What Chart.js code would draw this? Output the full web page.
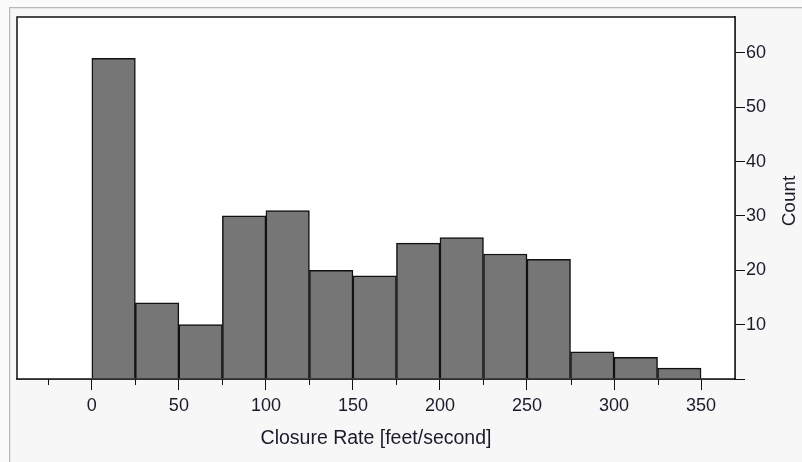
<!DOCTYPE html>
<html>
<head>
<meta charset="utf-8">
<script src="https://cdn.jsdelivr.net/npm/chart.js@4/dist/chart.umd.min.js"></script>
<style>
  html, body { margin: 0; padding: 0; background: #fbfbfb; }
  #wrap { position: relative; width: 802px; height: 462px; overflow: hidden; }
  #frame { position: absolute; left: 9px; top: 7px; width: 800px; height: 460px;
           background: #f7f7f7; border-left: 1px solid #b9b9b9; border-top: 1px solid #b9b9b9;
           box-shadow: inset 1px 1px 0 #e6e6e6; }
  #chart { position: absolute; left: 0; top: 0; }
</style>
</head>
<body>
<div id="wrap">
  <div id="frame"></div>
  <canvas id="chart" width="802" height="462"></canvas>
</div>
<script>
// histogram bins (left edges, feet/second) and counts
var binStart = [0, 25, 50, 75, 100, 125, 150, 175, 200, 225, 250, 275, 300, 325];
var counts   = [59, 14, 10, 30, 31, 20, 19, 25, 26, 23, 22, 5, 4, 2];
var binWidth = 25;
var xTitle = 'Closure Rate [feet/second]';
var yTitle = 'Count';

var textColor = '#1a1a2a';
var tickFont = { family: 'Liberation Sans, Arial, sans-serif', size: 18 };
var titleFont = { family: 'Liberation Sans, Arial, sans-serif', size: 19.5 };

var frame = {
    id: 'frame',
    beforeDatasetsDraw: function(chart) {
        var a = chart.chartArea, ctx = chart.ctx;
        ctx.save();
        ctx.fillStyle = '#ffffff';
        ctx.fillRect(a.left, a.top, a.right - a.left, a.bottom - a.top);
        ctx.restore();
    },
    afterDraw: function(chart) {
        var a = chart.chartArea, ctx = chart.ctx;
        var x = chart.scales.x;
        ctx.save();
        ctx.strokeStyle = '#111';
        ctx.lineWidth = 1.5;
        ctx.strokeRect(a.left, a.top, a.right - a.left, a.bottom - a.top);
        // minor ticks halfway between labelled ones
        ctx.lineWidth = 1;
        for (var v = Math.ceil(x.min / binWidth) * binWidth; v <= x.max; v += binWidth) {
            if (v % 50 === 0) continue;
            var px = Math.round(x.getPixelForValue(v)) + 0.5;
            ctx.beginPath();
            ctx.moveTo(px, a.bottom);
            ctx.lineTo(px, a.bottom + 6);
            ctx.stroke();
        }
        // y title, reading bottom to top
        ctx.translate(790, (a.top + a.bottom) / 2 + 3);
        ctx.rotate(-Math.PI / 2);
        ctx.fillStyle = textColor;
        ctx.font = '19px Liberation Sans, Arial, sans-serif';
        ctx.textAlign = 'center';
        ctx.textBaseline = 'middle';
        ctx.fillText(yTitle, 0, 0);
        ctx.restore();
    }
};

var ctx = document.getElementById('chart').getContext('2d');
new Chart(ctx, {
    type: 'bar',
    data: {
        datasets: [{
            data: counts.map(function(c, i) { return { x: binStart[i] + binWidth / 2, y: c }; }),
            backgroundColor: '#767676',
            borderColor: '#111',
            borderWidth: 1.5,
            barPercentage: 1,
            categoryPercentage: 1
        }]
    },
    options: {
        responsive: false,
        animation: false,
        layout: { padding: { left: 17, top: 17, right: 0, bottom: 0 } },
        plugins: { legend: { display: false }, tooltip: { enabled: false } },
        scales: {
            x: {
                type: 'linear',
                offset: false,
                min: -43,
                max: 369.5,
                grid: { offset: false, drawOnChartArea: false, tickLength: 11, color: '#111', lineWidth: 1 },
                border: { color: '#111', width: 1.5 },
                ticks: {
                    stepSize: 50,
                    includeBounds: false,
                    autoSkip: false,
                    maxRotation: 0,
                    padding: 5,
                    color: textColor,
                    font: tickFont,
                    callback: function(v) { return v; }
                },
                title: { display: true, text: xTitle, color: textColor, font: titleFont, padding: { top: 0, bottom: 12 } },
                afterFit: function(s) { s.height = 83; }
            },
            y: {
                position: 'right',
                min: 0,
                max: 66.6,
                grid: { drawOnChartArea: false, tickLength: 10, color: '#111', lineWidth: 1 },
                border: { color: '#111', width: 1.5 },
                ticks: {
                    stepSize: 10,
                    includeBounds: false,
                    padding: 1,
                    color: textColor,
                    font: tickFont,
                    callback: function(v) { return v === 0 ? '' : v; }
                },
                afterFit: function(s) { s.width = 67; }
            }
        }
    },
    plugins: [frame]
});
</script>
</body>
</html>
